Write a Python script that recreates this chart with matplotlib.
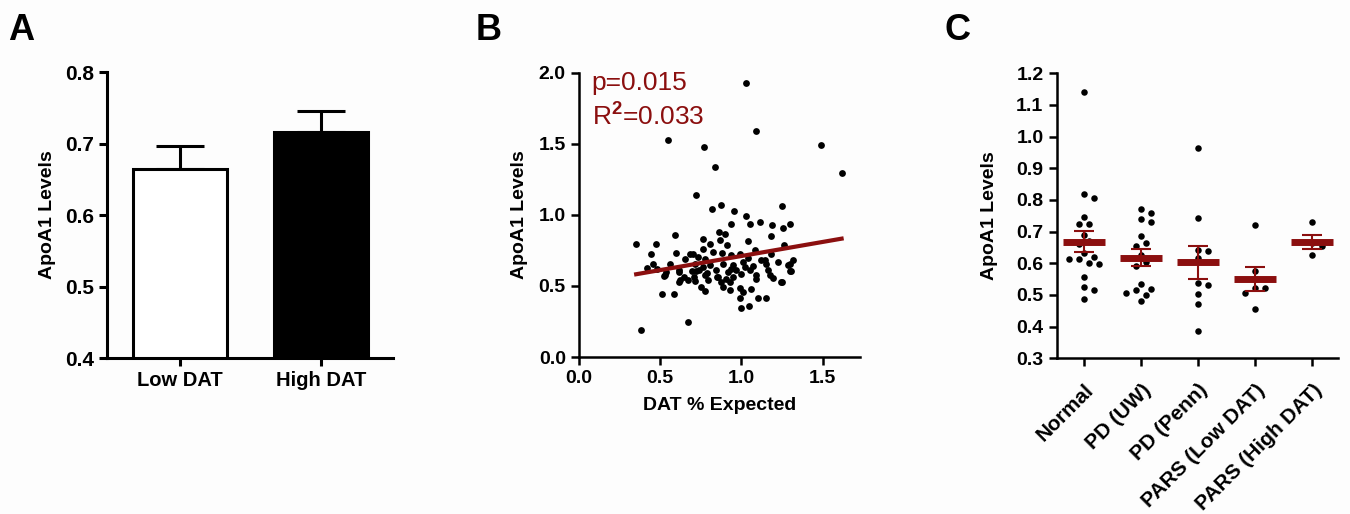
import numpy as np
import matplotlib.pyplot as plt

plt.rcParams['font.family'] = ['Liberation Sans', 'DejaVu Sans']
plt.rcParams['font.weight'] = 'bold'
plt.rcParams['axes.labelweight'] = 'bold'
plt.rcParams['mathtext.fontset'] = 'custom'
plt.rcParams['mathtext.rm'] = 'Liberation Sans'
plt.rcParams['mathtext.default'] = 'rm'

RED = '#8b0f0f'

# ---- panel A: mean ApoA1 by DAT group (upper SEM only)
dat_groups = ['Low DAT', 'High DAT']
dat_means = [0.665, 0.716]
dat_sem = [0.032, 0.029]

# ---- panel B: ApoA1 vs DAT % expected
dat_pct = [0.352, 0.381, 0.551, 0.770, 0.838, 0.721, 1.027, 1.090, 1.492, 1.617, 0.672,
           0.473, 0.594, 0.444, 0.600, 0.457, 0.420, 0.533, 0.522, 0.617, 0.645, 0.617,
           0.512, 0.584, 0.713, 0.531, 0.615, 0.619, 0.705, 0.674, 0.682, 0.693,
           0.817, 0.877, 0.955, 1.252, 1.031, 0.938, 1.053, 1.117, 1.186, 1.258, 1.297,
           0.862, 0.896, 1.041, 1.180, 0.764, 0.871, 0.912, 1.262, 0.764, 0.805, 0.826,
           0.883, 0.699, 0.733, 0.774, 0.938, 0.990, 1.041, 1.082, 1.143, 1.184, 1.225,
           1.297, 0.713, 0.764, 0.805, 0.846, 0.887, 0.948, 0.969, 1.010, 1.020, 1.051,
           1.092, 1.154, 1.164, 1.174, 1.194, 1.297, 1.246, 0.723, 0.774, 0.795, 0.856,
           0.877, 0.908, 0.928, 0.754, 0.774, 0.887, 0.928, 0.990, 1.010, 1.061, 1.092,
           0.990, 1.102, 1.149, 1.000, 1.045, 0.918, 0.948, 1.317, 1.287, 1.307, 1.252,
           0.788, 0.850, 0.935, 0.995, 1.070, 1.120, 0.740, 0.655, 0.560, 0.480]
apoa1 = [0.798, 0.188, 1.526, 1.479, 1.338, 1.138, 1.932, 1.594, 1.493, 1.296, 0.246,
         0.796, 0.862, 0.728, 0.733, 0.658, 0.627, 0.599, 0.568, 0.599, 0.563, 0.528,
         0.446, 0.446, 0.535, 0.575, 0.610, 0.540, 0.563, 0.540, 0.728, 0.604,
         1.045, 1.073, 1.028, 1.061, 0.991, 0.934, 0.934, 0.953, 0.932, 0.909, 0.934,
         0.878, 0.864, 0.817, 0.852, 0.829, 0.822, 0.787, 0.787, 0.763, 0.799, 0.740,
         0.733, 0.728, 0.704, 0.693, 0.716, 0.728, 0.700, 0.756, 0.686, 0.728, 0.669,
         0.658, 0.658, 0.634, 0.646, 0.611, 0.658, 0.646, 0.611, 0.669, 0.634, 0.611,
         0.576, 0.658, 0.611, 0.576, 0.559, 0.606, 0.528, 0.604, 0.576, 0.540, 0.563,
         0.528, 0.552, 0.528, 0.493, 0.465, 0.493, 0.474, 0.489, 0.458, 0.482, 0.552,
         0.418, 0.416, 0.416, 0.348, 0.357, 0.599, 0.563, 0.681, 0.651, 0.604, 0.528,
         0.590, 0.560, 0.620, 0.585, 0.640, 0.680, 0.610, 0.690, 0.655, 0.620]
fit_slope = 0.198
fit_intercept = 0.513
p_text = 'p=0.015'
r2_text = 'R$^{2}$=0.033'

# ---- panel C: ApoA1 by cohort
cohorts = ['Normal', 'PD (UW)', 'PD (Penn)', 'PARS (Low DAT)', 'PARS (High DAT)']
normal = [1.14, 0.82, 0.805, 0.745, 0.725, 0.725, 0.69, 0.67, 0.66, 0.632, 0.621,
          0.614, 0.614, 0.600, 0.597, 0.556, 0.526, 0.516, 0.487]
pd_uw = [0.77, 0.76, 0.74, 0.73, 0.685, 0.665, 0.655, 0.625, 0.605, 0.59, 0.535,
         0.52, 0.515, 0.505, 0.50, 0.48]
pd_penn = [0.965, 0.742, 0.642, 0.640, 0.616, 0.537, 0.532, 0.502, 0.472, 0.386]
pars_low = [0.721, 0.576, 0.521, 0.521, 0.507, 0.456]
pars_high = [0.731, 0.665, 0.655, 0.626]
cohort_vals = [normal, pd_uw, pd_penn, pars_low, pars_high]
cohort_means = [0.668, 0.618, 0.603, 0.550, 0.667]
cohort_sem = [0.033, 0.028, 0.051, 0.037, 0.022]


def swarm(vals, ypx, xpx, dot=7.5):
    # spread dots sideways so they don't overlap (offsets in data units)
    placed = []
    offs = []
    for v in vals:
        for k in [0, 1, -1, 2, -2, 3, -3, 4, -4, 5, -5]:
            dx = k * dot * 0.65
            if all((dx - px) ** 2 + ((v - pv) * ypx) ** 2 >= dot ** 2 for px, pv in placed):
                break
        placed.append((dx, v))
        offs.append(dx / xpx)
    return np.array(offs)


def style(ax, lw):
    ax.set_facecolor('none')
    for s in ['top', 'right']:
        ax.spines[s].set_visible(False)
    for s in ['left', 'bottom']:
        ax.spines[s].set_linewidth(lw)
    ax.tick_params(width=lw, length=6, labelsize=14)


fig = plt.figure(figsize=(13.5, 5.14), dpi=100)
fig.patch.set_facecolor('#fdfdfd')

# A
axA = fig.add_axes([0.0793, 0.3035, 0.2118, 0.5564])
style(axA, 2.2)
xa = np.arange(len(dat_groups))
axA.bar(xa, dat_means, width=0.67, color=['white', 'black'], edgecolor='black',
        linewidth=2.2, zorder=2)
axA.errorbar(xa, dat_means, yerr=[np.zeros(2), dat_sem], fmt='none', ecolor='black',
             elinewidth=2.2, capsize=17, capthick=2.2, zorder=1)
axA.set_xlim(-0.52, 1.51)
axA.set_ylim(0.4, 0.8)
axA.set_yticks([0.4, 0.5, 0.6, 0.7, 0.8])
axA.set_xticks(xa)
axA.set_xticklabels(dat_groups, fontsize=14.5)
axA.tick_params(axis='y', labelsize=15)
axA.set_ylabel('ApoA1 Levels', fontsize=14)
axA.yaxis.set_label_coords(-0.18, 0.5)
for sp in axA.spines.values():
    sp.set_zorder(3)

# B
axB = fig.add_axes([0.4289, 0.3054, 0.2081, 0.5528])
style(axB, 1.8)
axB.scatter(dat_pct, apoa1, s=24, color='black', linewidths=0, zorder=2)
xl = np.array([min(dat_pct), max(dat_pct)])
axB.plot(xl, fit_intercept + fit_slope * xl, color=RED, lw=3, zorder=3)
axB.set_xlim(0, 1.73)
axB.set_ylim(0, 2.0)
axB.set_xticks([0, 0.5, 1.0, 1.5])
axB.set_yticks([0, 0.5, 1.0, 1.5, 2.0])
axB.xaxis.set_major_formatter(plt.FormatStrFormatter('%.1f'))
axB.yaxis.set_major_formatter(plt.FormatStrFormatter('%.1f'))
axB.set_xlabel('DAT % Expected', fontsize=14)
axB.xaxis.set_label_coords(0.5, -0.14)
axB.set_ylabel('ApoA1 Levels', fontsize=14)
axB.yaxis.set_label_coords(-0.18, 0.5)
axB.text(0.045, 0.94, p_text, transform=axB.transAxes, color=RED, fontsize=19,
         fontweight='normal', va='baseline')
axB.text(0.045, 0.815, r2_text, transform=axB.transAxes, color=RED, fontsize=19,
         fontweight='normal', va='baseline')

# C
axC = fig.add_axes([0.7827, 0.3029, 0.2084, 0.5545])
style(axC, 1.8)
for i, vals in enumerate(cohort_vals):
    off = swarm(vals, ypx=316.7, xpx=57.0)
    axC.scatter(i + off, vals, s=22, color='black', linewidths=0, zorder=2)
    axC.hlines(cohort_means[i], i - 0.37, i + 0.37, color=RED, lw=5, zorder=3)
    axC.errorbar(i, cohort_means[i], yerr=cohort_sem[i], fmt='none', ecolor=RED,
                 elinewidth=1.5, capsize=7, capthick=1.5, zorder=3)
axC.set_xlim(-0.48, 4.45)
axC.set_ylim(0.3, 1.2)
axC.set_yticks(np.arange(0.3, 1.21, 0.1))
axC.yaxis.set_major_formatter(plt.FormatStrFormatter('%.1f'))
axC.set_xticks(range(len(cohorts)))
axC.set_xticklabels(cohorts, rotation=45, ha='right', rotation_mode='anchor', fontsize=15)
axC.tick_params(axis='x', pad=10)
axC.set_ylabel('ApoA1 Levels', fontsize=14)
axC.yaxis.set_label_coords(-0.21, 0.5)

for x, lab in [(0.006, 'A'), (0.352, 'B'), (0.700, 'C')]:
    fig.text(x, 0.975, lab, fontsize=26, fontweight='bold', va='top')

fig.savefig('out.png', dpi=100, facecolor=fig.get_facecolor())
